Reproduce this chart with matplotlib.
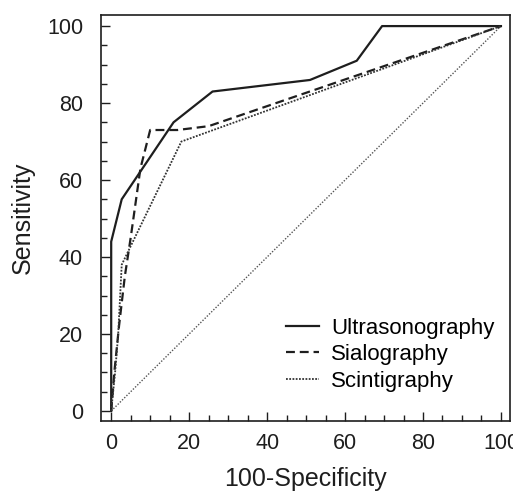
import numpy as np
import matplotlib
matplotlib.use("Agg")
import matplotlib.pyplot as plt
from matplotlib.ticker import MultipleLocator

plt.rcParams['font.family'] = ['Liberation Sans', 'DejaVu Sans']

# ROC points (100-specificity, sensitivity)
us_x = [0, 0, 2.7, 16, 26, 51, 63, 69.5, 100]
us_y = [0, 44, 55, 75, 83, 86, 91, 100, 100]

sia_x = [0, 0.8, 2, 3.5, 5, 7.5, 10, 17, 25, 100]
sia_y = [0, 10, 22, 35, 45, 63, 73, 73, 74, 100]

sci_x = [0, 1, 1.8, 2.3, 2.7, 18, 100]
sci_y = [0, 10, 20, 30, 38, 70, 100]

ref_x = [0, 100]
ref_y = [0, 100]

labels = ["Ultrasonography", "Sialography", "Scintigraphy"]

fig = plt.figure(figsize=(5.13, 4.91), dpi=100)
ax = fig.add_axes([0.197, 0.1426, 0.797, 0.827])

ink = "#1e1e1e"
ax.plot(ref_x, ref_y, color="#555555", lw=1.0, ls=(0, (1, 1.2)))
ax.plot(us_x, us_y, color=ink, lw=1.6, ls="-", label=labels[0])
ax.plot(sia_x, sia_y, color=ink, lw=1.6, ls=(0, (4, 2.2)), label=labels[1])
ax.plot(sci_x, sci_y, color="#333333", lw=1.3, ls=(0, (1, 0.8)), label=labels[2])

ax.set_xlim(-2.6, 102.3)
ax.set_ylim(-2.6, 102.9)
ax.xaxis.set_major_locator(MultipleLocator(20))
ax.xaxis.set_minor_locator(MultipleLocator(5))
ax.yaxis.set_major_locator(MultipleLocator(20))
ax.yaxis.set_minor_locator(MultipleLocator(5))
ax.tick_params(which="major", direction="in", length=6.5, width=1.0, color=ink,
               labelsize=15.5, labelcolor=ink)
ax.tick_params(which="minor", direction="in", length=4, width=1.0, color=ink)
ax.tick_params(axis="y", which="major", pad=13)
ax.tick_params(axis="x", which="major", pad=9)
for s in ax.spines.values():
    s.set_linewidth(1.2)
    s.set_color(ink)

ax.set_xlabel("100-Specificity", fontsize=18, color=ink, labelpad=9)
ax.set_ylabel("Sensitivity", fontsize=18, color=ink, labelpad=9)

ax.legend(loc="lower left", bbox_to_anchor=(0.452, 0.072), borderpad=0,
          borderaxespad=0, frameon=False, fontsize=16,
          handlelength=1.5, handletextpad=0.55, labelspacing=0.25)

fig.savefig("out.png", dpi=100)
